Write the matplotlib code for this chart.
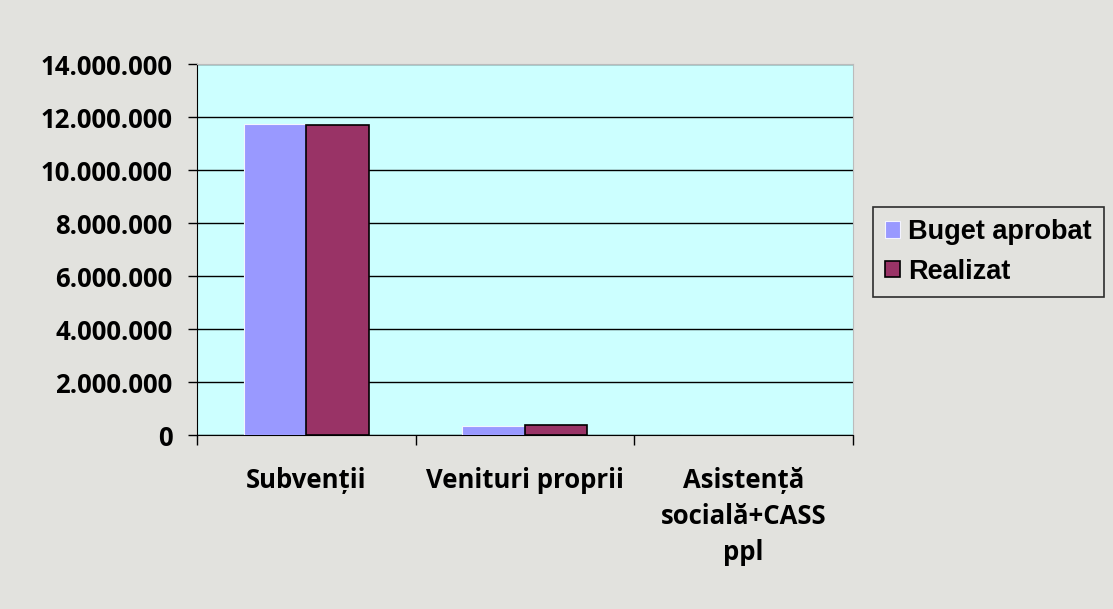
import matplotlib.pyplot as plt
import numpy as np
from matplotlib.ticker import FuncFormatter

categories = ["Subvenții", "Venituri proprii", "Asistență\nsocială+CASS\nppl"]
buget_aprobat = [11730000, 340000, 15000]
realizat = [11700000, 390000, 0]
series_names = ["Buget aprobat", "Realizat"]

fig = plt.figure(figsize=(11.13, 6.09), dpi=100)
fig.patch.set_facecolor("#e2e2de")
ax = fig.add_axes([0.177, 0.2857, 0.589, 0.6092])
ax.set_facecolor("#ccffff")

x = np.arange(len(categories))
w = 0.286
ax.bar(x - w / 2, buget_aprobat, w, color="#9999ff", edgecolor="#f4f4ff", linewidth=0.8,
       label=series_names[0], zorder=3)
ax.bar(x + w / 2, realizat, w, color="#993366", edgecolor="black",
       linewidth=[1.2 if v > 0 else 0 for v in realizat],
       label=series_names[1], zorder=3)

ax.set_xlim(-0.5, len(categories) - 0.5)
ax.set_ylim(0, 14000000)
ax.set_yticks(np.arange(0, 14000001, 2000000))
ax.yaxis.set_major_formatter(FuncFormatter(lambda v, p: f"{int(v):,}".replace(",", ".")))
ax.grid(axis="y", color="black", linewidth=1, zorder=1)

ax.set_xticks(x)
ax.set_xticklabels(categories, fontfamily="Open Sans", fontweight="bold", fontsize=18.5,
                   linespacing=1.42, va="top")
ax.set_xticks(np.arange(-0.5, len(categories), 1), minor=True)
ax.tick_params(axis="x", which="major", length=0, pad=23)
ax.tick_params(axis="x", which="minor", length=7, width=1, direction="out")
ax.tick_params(axis="y", length=6.5, width=1, direction="out", pad=11)
for lab in ax.get_yticklabels():
    lab.set_fontfamily("Open Sans")
    lab.set_fontweight("bold")
    lab.set_fontsize(18.5)

for side in ["top", "right"]:
    ax.spines[side].set_color("#bbbbbb")
ax.spines["left"].set_color("black")
ax.spines["bottom"].set_color("black")

leg = fig.legend(loc="upper left", bbox_to_anchor=(873 / 1113, 1 - 207 / 609),
                 prop={"family": "Liberation Sans", "weight": "bold", "size": 19.5},
                 frameon=True, fancybox=False, edgecolor="black", facecolor="none",
                 handlelength=0.55, handleheight=0.55, handletextpad=0.3,
                 borderpad=0.45, labelspacing=0.5, borderaxespad=0)
leg.get_frame().set_linewidth(1.2)

fig.savefig("out.png", dpi=100, facecolor=fig.get_facecolor())
